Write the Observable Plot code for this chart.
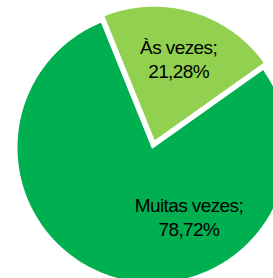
<!DOCTYPE html>
<html>
<head>
<meta charset="utf-8">
<script src="https://cdn.jsdelivr.net/npm/d3@7"></script>
<script src="https://cdn.jsdelivr.net/npm/@observablehq/plot@0.6"></script>
<style>
  html, body { margin: 0; padding: 0; background: #fff; }
</style>
</head>
<body>
<div id="chart"></div>
<script>
// ---- data ----
const categories = ["Muitas vezes", "Às vezes"];
const percents = [78.72, 21.28];
const valueLabels = ["78,72%", "21,28%"];
const colors = ["#00B050", "#92D050"];

// ---- layout ----
const W = 273, H = 278;
const CX = 152, CY = 147, R = 136;     // pie centre (px) and radius
const START = 54.6;                     // angle of first slice, degrees clockwise from 12 o'clock
const EXPLODE = [0, 6];                 // px offset per slice
const LABEL_R = [0.57, 0.64];           // label distance as fraction of radius
const LABEL_ANGLE = [152, null];        // override (Excel best fit) or null = mid angle

const rad = d => d * Math.PI / 180;
const slices = [];
const labels = [];
let a0 = START;
categories.forEach((cat, i) => {
  const span = percents[i] / 100 * 360;
  const mid = a0 + span / 2;
  const ox = EXPLODE[i] * Math.sin(rad(mid));
  const oy = EXPLODE[i] * Math.cos(rad(mid));
  const pts = [{x: ox, y: oy}];
  const n = Math.ceil(span);
  for (let k = 0; k <= n; k++) {
    const a = rad(a0 + span * k / n);
    pts.push({x: ox + R * Math.sin(a), y: oy + R * Math.cos(a)});
  }
  pts.push({x: ox, y: oy});
  slices.push({cat, color: colors[i], pts});
  const la = rad(LABEL_ANGLE[i] ?? mid);
  const lr = LABEL_R[i] * R;
  labels.push({x: ox + lr * Math.sin(la), y: oy + lr * Math.cos(la), text: cat + ";\n" + valueLabels[i]});
  a0 += span;
});

const chart = Plot.plot({
  width: W,
  height: H,
  margin: 0,
  x: {domain: [-CX, W - CX], axis: null},
  y: {domain: [-(H - CY), CY], axis: null},
  style: {background: "#fff", fontFamily: "'Liberation Sans', Arial, sans-serif", letterSpacing: "-0.6px"},
  marks: [
    ...slices.map(s => Plot.line(s.pts, {x: "x", y: "y", fill: s.color, stroke: "white", strokeWidth: 2, strokeLinejoin: "miter"})),
    Plot.text(labels, {x: "x", y: "y", text: "text", fontSize: 19, lineHeight: 1.28, fill: "black", textAnchor: "middle"})
  ]
});
document.getElementById("chart").appendChild(chart);
</script>
</body>
</html>
